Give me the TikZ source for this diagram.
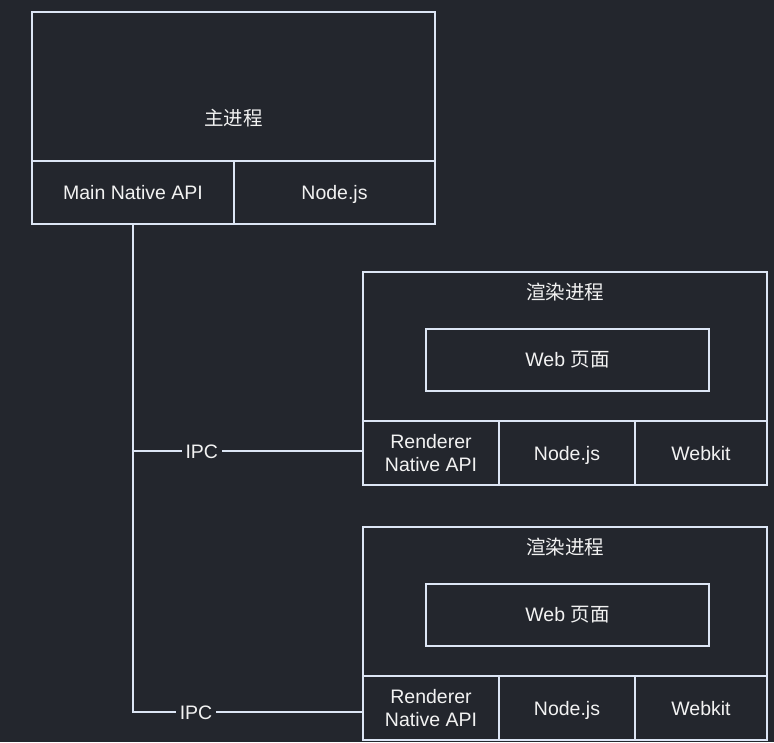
\documentclass[tikz,border=0pt]{standalone}
\usepackage{fontspec}
\setmainfont{Liberation Sans}
\newfontfamily\cjk{Noto Sans CJK SC}
\definecolor{bg}{HTML}{23262D}
\definecolor{ln}{HTML}{DCE5F4}
\definecolor{tx}{HTML}{F2F2F2}
\begin{document}
\begin{tikzpicture}[x=1pt,y=-1pt,
  every node/.style={font=\fontsize{19.5}{23}\selectfont, text=tx},
  cell/.style={draw=ln, line width=1.3pt, inner sep=0pt, align=center},
  one/.style={text height=14pt, text depth=0pt},
  lbl/.style={inner sep=0pt},
  ipc/.style={fill=bg, inner sep=4pt, one},
  wire/.style={draw=ln, line width=1.3pt}]
\fill[bg] (0,0) rectangle (774,742);
\useasboundingbox (0,0) rectangle (774,742);
% main process
\node[cell, minimum width=403pt, minimum height=149pt] (mainTop) at (233.5,86.5) {};
\node[lbl] (mainTitle) at (233.5,118) {\cjk 主进程};
\node[cell, one, minimum width=202pt, minimum height=63pt] (mainApi) at (133,192.5) {Main Native API};
\node[cell, one, minimum width=201pt, minimum height=63pt] (mainNode) at (334.5,192.5) {Node.js};
% renderer 1
\node[cell, minimum width=404pt, minimum height=149pt] (r1Top) at (565,346.5) {};
\node[lbl] (r1Title) at (565,292) {\cjk 渲染进程};
\node[cell, minimum width=283pt, minimum height=62pt] (r1Web) at (567.5,360) {Web {\cjk 页面}};
\node[cell, minimum width=136pt, minimum height=64pt] (r1Api) at (431,453) {Renderer\\Native API};
\node[cell, one, minimum width=136pt, minimum height=64pt] (r1Node) at (567,453) {Node.js};
\node[cell, one, minimum width=132pt, minimum height=64pt] (r1Kit) at (701,453) {Webkit};
% renderer 2
\node[cell, minimum width=404pt, minimum height=149pt] (r2Top) at (565,601.5) {};
\node[lbl] (r2Title) at (565,547) {\cjk 渲染进程};
\node[cell, minimum width=283pt, minimum height=62pt] (r2Web) at (567.5,615) {Web {\cjk 页面}};
\node[cell, minimum width=136pt, minimum height=64pt] (r2Api) at (431,708) {Renderer\\Native API};
\node[cell, one, minimum width=136pt, minimum height=64pt] (r2Node) at (567,708) {Node.js};
\node[cell, one, minimum width=132pt, minimum height=64pt] (r2Kit) at (701,708) {Webkit};
% IPC connectors
\coordinate (e1) at ([yshift=2pt]r1Api.west);
\coordinate (e2) at ([yshift=-4pt]r2Api.west);
\coordinate (j1) at (mainApi.south |- e1);
\coordinate (j2) at (mainApi.south |- e2);
\draw[wire] (mainApi.south) -- (j2) -- node[ipc, pos=0.275] (ipc2) {IPC} (e2);
\draw[wire] (j1) -- node[ipc, pos=0.30] (ipc1) {IPC} (e1);
\end{tikzpicture}
\end{document}
